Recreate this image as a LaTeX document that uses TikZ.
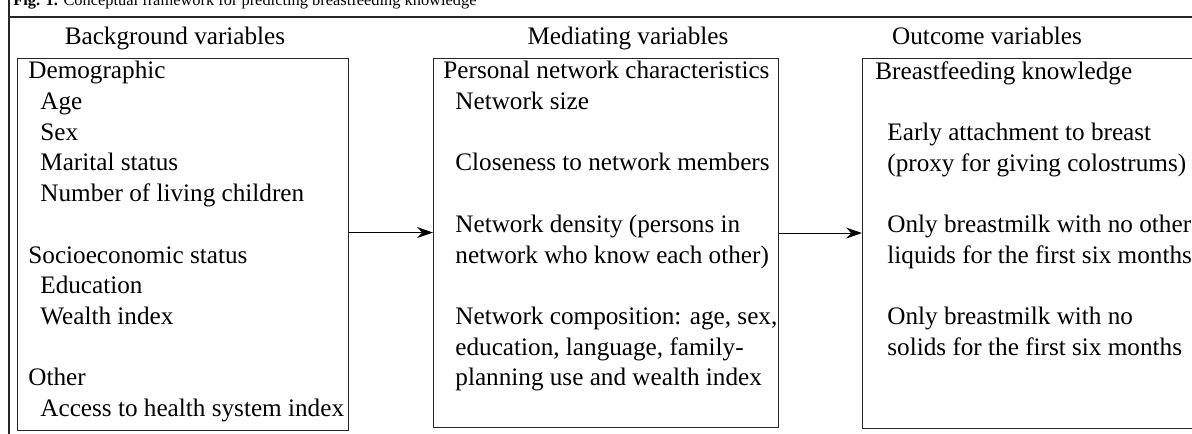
\documentclass[tikz,border=0pt]{standalone}
\usepackage{fontspec}
\setmainfont{Liberation Serif}
\usetikzlibrary{arrows.meta, positioning}
\newcommand\ind{\hspace*{6pt}}
\newcommand\gap{\\[15.35pt]}

\begin{document}
\begin{tikzpicture}[
  x=0.5pt, y=-0.5pt,
  font=\fontsize{12.6}{15.35}\selectfont,
  frame/.style={line width=0.7pt, draw=black!85},
  panel/.style={draw=black!85, line width=0.55pt, inner sep=0pt, anchor=north west},
  paneltext/.style={align=left, inner sep=0pt, anchor=north west},
  heading/.style={anchor=base, inner sep=0pt},
  arrow/.style={-{Stealth[length=8pt, width=5.5pt]}, line width=0.55pt}
]
\useasboundingbox (0,0) rectangle (1192,433);
\fill[white] (0,0) rectangle (1192,433);

\draw[frame] (9,-5) -- (9,440);
\draw[frame] (9,17) -- (1200,17);
\node[anchor=base west, inner sep=0pt, font=\fontsize{8.2}{9.6}\selectfont] (title) at (13,6)
  {\textbf{Fig. 1.} Conceptual framework for predicting breastfeeding knowledge};

\node[heading] (bghead) at (175,45) {Background variables};
\node[heading] (medhead) at (628,45) {Mediating variables};
\node[heading] (outhead) at (987,45) {Outcome variables};

\node[panel, minimum width=165.5pt, minimum height=186pt] (bgbox) at (17,58) {};
\node[panel, minimum width=172.5pt, minimum height=184.5pt] (medbox) at (433,58) {};
\node[panel, minimum width=194pt, minimum height=185pt] (outbox) at (862,58) {};

\node[paneltext] (bgtext) at ([xshift=5.5pt, yshift=-1.5pt]bgbox.north west) {%
Demographic\\
\ind Age\\
\ind Sex\\
\ind Marital status\\
\ind Number of living children\gap
Socioeconomic status\\
\ind Education\\
\ind Wealth index\gap
Other\\
\ind Access to health system index};

\node[paneltext] (medtext) at ([xshift=5pt, yshift=-1.5pt]medbox.north west) {%
Personal network characteristics\\
\ind Network size\gap
\ind Closeness to network members\gap
\ind Network density (persons in\\
\ind network who know each other)\gap
\ind Network composition: age, sex,\\
\ind education, language, family-\\
\ind planning use and wealth index};

\node[paneltext] (outtext) at ([xshift=6.5pt, yshift=-1.5pt]outbox.north west) {%
Breastfeeding knowledge\gap
\ind Early attachment to breast\\
\ind (proxy for giving colostrums)\gap
\ind Only breastmilk with no other\\
\ind liquids for the first six months\gap
\ind Only breastmilk with no\\
\ind solids for the first six months};

\draw[arrow] ([yshift=6pt]bgbox.east) -- ([yshift=6pt]bgbox.east -| medbox.west);
\draw[arrow] ([yshift=5pt]medbox.east) -- ([yshift=5pt]medbox.east -| outbox.west);
\end{tikzpicture}
\end{document}
